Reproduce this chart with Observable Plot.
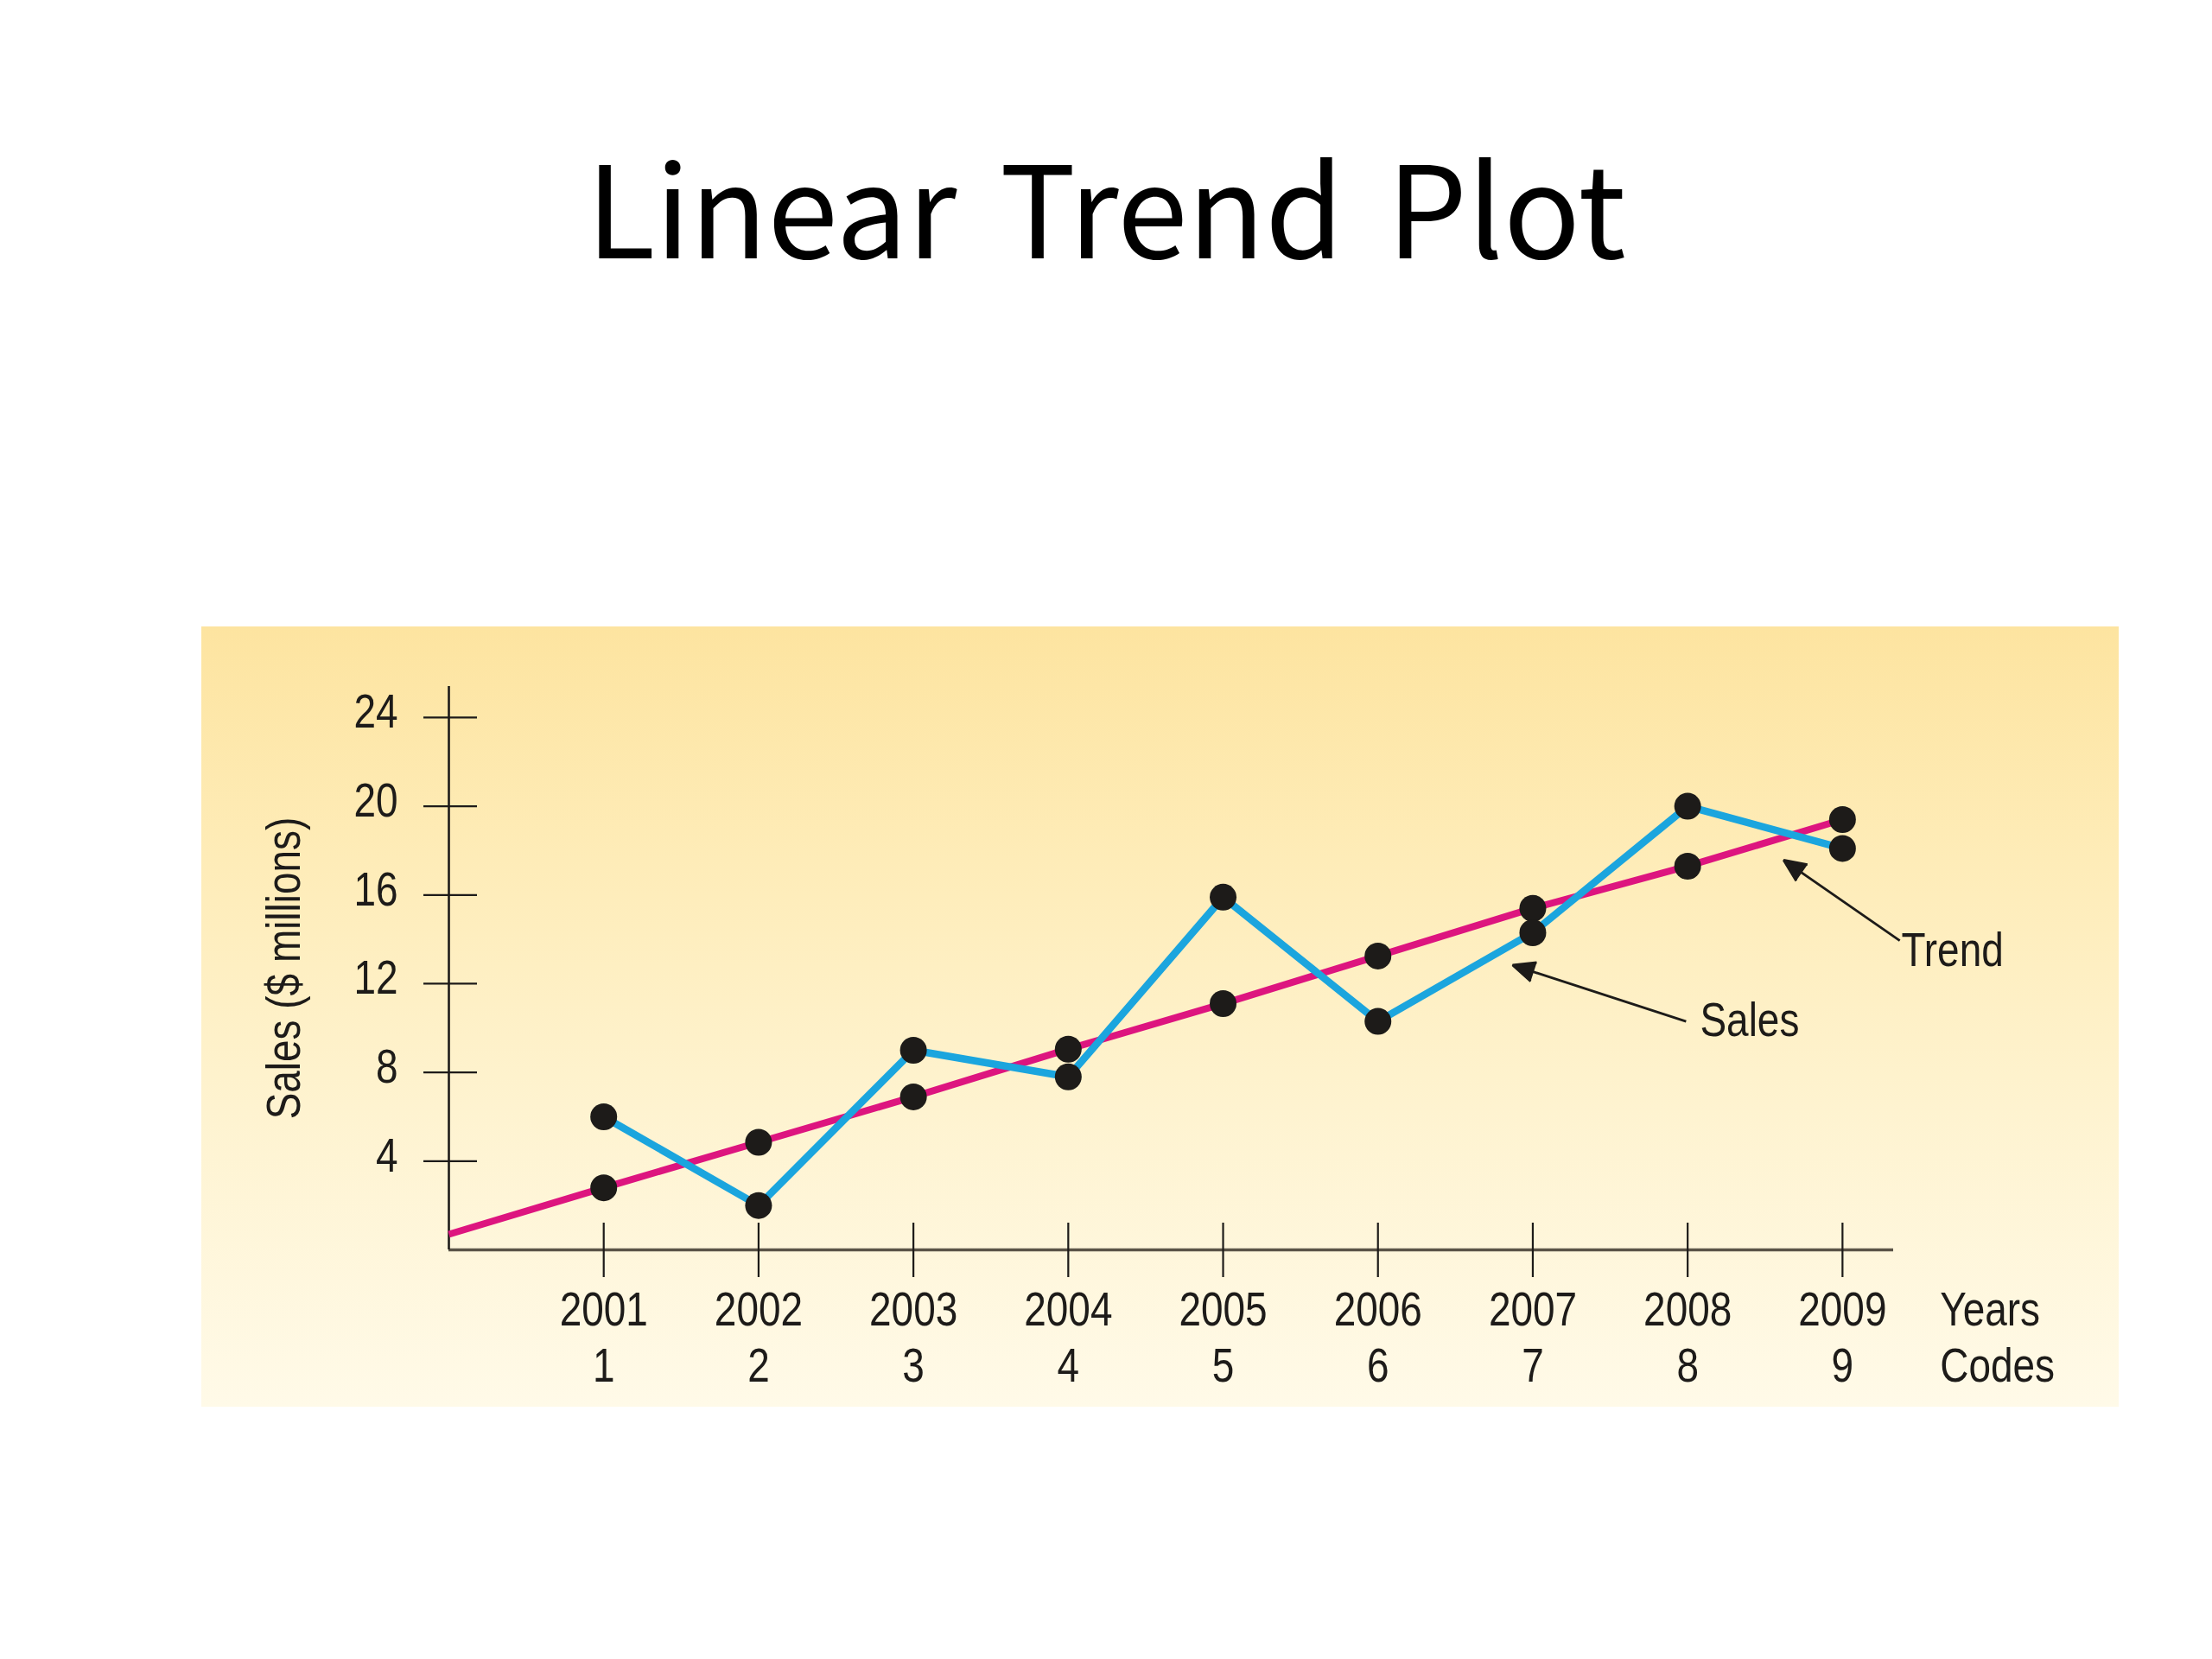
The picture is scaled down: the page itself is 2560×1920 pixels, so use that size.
<!DOCTYPE html>
<html>
<head>
<meta charset="utf-8">
<script src="https://cdn.jsdelivr.net/npm/d3@7"></script>
<script src="https://cdn.jsdelivr.net/npm/@observablehq/plot@0.6"></script>
<style>
  html, body { margin: 0; padding: 0; background: #ffffff; }
  body { width: 2560px; height: 1920px; position: relative; overflow: hidden; }
  #title {
    position: absolute; left: 0; top: 161px; width: 2560px; text-align: center;
    font-family: "Noto Sans CJK KR", "Open Sans", sans-serif; font-size: 147px; line-height: 1;
    color: #000; word-spacing: 17px; white-space: nowrap;
  }
  #panel {
    position: absolute; left: 233px; top: 725px; width: 2219px; height: 903px;
    background: linear-gradient(to bottom, #fde4a0 0%, #feecb8 30%, #fef3d0 62%, #fffae8 100%);
  }
  #panel svg { position: absolute; left: 0; top: 0; overflow: visible; }
</style>
</head>
<body>
<div id="title">Linear Trend Plot</div>
<div id="panel"></div>
<script>
// ---- data ----
const years = ["2001", "2002", "2003", "2004", "2005", "2006", "2007", "2008", "2009"];
const codes = [1, 2, 3, 4, 5, 6, 7, 8, 9];
const sales = [6, 2, 9, 7.8, 15.9, 10.3, 14.3, 20, 18.1];          // $ millions
const trendCodes = [0, 1, 2, 3, 4, 5, 6, 7, 8, 9];
const trendValues = [0.7, 2.8, 4.85, 6.9, 9.05, 11.1, 13.25, 15.4, 17.3, 19.4];
const yTicks = [4, 8, 12, 16, 20, 24];
const yAxisLabel = "Sales ($ millions)";
const xRowTitles = ["Years", "Codes"];
const xRowTitleCode = 9.63;

// annotations (data units: code, $ millions)
const noteLabels = ["Sales", "Trend"];
const noteFromX = [7.99, 9.37];
const noteFromY = [10.3, 13.94];
const noteToX = [6.87, 8.62];
const noteToY = [12.84, 17.57];
const noteTextX = [8.08, 9.38];
const noteTextY = [9.65, 12.81];

// ---- tables built from the arrays ----
const salesData = codes.map((c, i) => ({code: c, year: years[i], value: sales[i]}));
const trendData = trendCodes.map((c, i) => ({code: c, value: trendValues[i]}));
const notes = noteLabels.map((t, i) => ({
  label: t, x1: noteFromX[i], y1: noteFromY[i], x2: noteToX[i], y2: noteToY[i],
  tx: noteTextX[i], ty: noteTextY[i]
}));

const FONT = "'Liberation Sans', Arial, sans-serif";
const FS = 56;
const CONDENSE = 0.82;
const INK = "#1d1b19";
const BLUE = "#1ba5de";
const PINK = "#dd157f";

const chart = Plot.plot({
  width: 2219,
  height: 903,
  marginLeft: 286,
  marginRight: 261,
  marginTop: 69,
  marginBottom: 182,
  x: {domain: [0, 9.33], axis: null},
  y: {domain: [0, 25.4], axis: null},
  style: {background: "transparent", fontFamily: FONT, fontSize: FS + "px", color: INK, overflow: "visible"},
  marks: [
    // axis lines
    Plot.ruleY([0], {stroke: "#5a5347", strokeWidth: 3.5}),
    Plot.ruleX([0], {stroke: INK, strokeWidth: 2.6}),
    // y ticks crossing the axis
    Plot.axisY({ticks: yTicks, tickSize: 62, dx: 33, fill: "none", stroke: INK, strokeWidth: 2.2, label: null}),
    Plot.axisY({ticks: yTicks, tickSize: 0, tickPadding: 59, dy: -6, fontSize: FS, fill: INK, label: null}),
    // x ticks crossing the axis
    Plot.axisX({ticks: codes, tickSize: 63, dy: -31, fill: "none", stroke: INK, strokeWidth: 2.2, label: null}),
    Plot.axisX({ticks: codes, tickSize: 0, tickPadding: 48, tickFormat: (d) => years[d - 1], fontSize: FS, fill: INK, label: null}),
    Plot.axisX({ticks: codes, tickSize: 0, tickPadding: 113, tickFormat: (d) => String(d), fontSize: FS, fill: INK, label: null}),
    // row titles to the right of the x axis
    Plot.text([xRowTitles[0]], {x: () => xRowTitleCode, frameAnchor: "bottom", dy: 48, lineAnchor: "top", textAnchor: "start", fontSize: FS, fill: INK}),
    Plot.text([xRowTitles[1]], {x: () => xRowTitleCode, frameAnchor: "bottom", dy: 113, lineAnchor: "top", textAnchor: "start", fontSize: FS, fill: INK}),
    // y axis title
    Plot.text([yAxisLabel], {frameAnchor: "left", textAnchor: "middle", dx: -190, rotate: -90, fontSize: FS, fill: INK}),
    // trend line and sales line
    Plot.line(trendData, {x: "code", y: "value", stroke: PINK, strokeWidth: 8, strokeLinecap: "butt"}),
    Plot.line(salesData, {x: "code", y: "value", stroke: BLUE, strokeWidth: 8.5, strokeLinejoin: "miter", strokeLinecap: "butt"}),
    // points
    Plot.dot(trendData.filter((d) => d.code >= 1), {x: "code", y: "value", r: 15.5, fill: INK, stroke: "none"}),
    Plot.dot(salesData, {x: "code", y: "value", r: 15.5, fill: INK, stroke: "none"}),
    // annotations
    Plot.arrow(notes, {x1: "x1", y1: "y1", x2: "x2", y2: "y2", stroke: INK, fill: INK, strokeWidth: 2.8, headLength: 15, headAngle: 48, strokeLinecap: "butt", strokeLinejoin: "miter"}),
    Plot.text(notes, {x: "tx", y: "ty", text: "label", textAnchor: "start", lineAnchor: "bottom", fontSize: FS, fill: INK})
  ]
});

document.getElementById("panel").appendChild(chart);

// condense the chart lettering (the reference uses a condensed grotesque)
chart.querySelectorAll("text").forEach((t) => {
  const spans = t.querySelectorAll("tspan");
  const targets = spans.length ? Array.from(spans) : [t];
  targets.forEach((el) => {
    const len = el.getComputedTextLength();
    if (len > 0) {
      el.setAttribute("textLength", (len * CONDENSE).toFixed(2));
      el.setAttribute("lengthAdjust", "spacingAndGlyphs");
    }
  });
});
</script>
</body>
</html>
